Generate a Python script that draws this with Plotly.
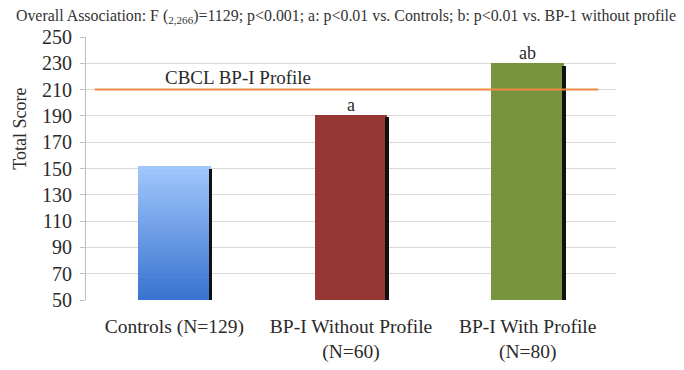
import plotly.graph_objects as go

categories = ["Controls (N=129)", "BP-I Without Profile<br>(N=60)", "BP-I With Profile<br>(N=80)"]
values = [152, 191, 230]
sig_labels = ["", "a", "ab"]
profile_value = 210
profile_label = "CBCL BP-I Profile"
y_ticks = list(range(50, 251, 20))
y_title = "Total Score"

BASE = 50
BAR_W = 0.41
SH_W = 0.022
SERIF = "Liberation Serif"
xi = list(range(len(categories)))

def lerp(c1, c2, t):
    return "rgb(%d,%d,%d)" % tuple(round(a + (b - a) * t) for a, b in zip(c1, c2))

fig = go.Figure()

# Controls bar with vertical gradient (stacked segments)
N = 30
top_c = (160, 198, 252)
bot_c = (58, 116, 208)
h = values[0] - BASE
for k in range(N):
    t = k / (N - 1)
    fig.add_trace(go.Bar(
        x=[xi[0]], y=[h / N], base=[BASE + h * k / N],
        width=BAR_W, marker=dict(color=lerp(bot_c, top_c, t), line=dict(width=0)),
        showlegend=False, hoverinfo="skip"))

solid_colors = [None, "#953735", "#77933c"]
for i in (1, 2):
    fig.add_trace(go.Bar(
        x=[xi[i]], y=[values[i] - BASE], base=[BASE], width=BAR_W,
        marker=dict(color=solid_colors[i], line=dict(width=0)),
        showlegend=False, hoverinfo="skip"))

# right-side dark shadows
fig.add_trace(go.Bar(
    x=xi, y=[v - BASE - 2 for v in values], base=[BASE] * 3,
    width=SH_W, offset=BAR_W / 2 - SH_W / 2,
    marker=dict(color="#111111", line=dict(width=0)),
    showlegend=False, hoverinfo="skip"))

# profile line
fig.add_trace(go.Scatter(
    x=[-0.45, 2.4], y=[profile_value, profile_value], mode="lines",
    line=dict(color="#ee8a45", width=2), showlegend=False, hoverinfo="skip"))

fig.add_annotation(x=0.36, y=profile_value, text=profile_label, showarrow=False,
                   yanchor="bottom", yshift=0,
                   font=dict(family=SERIF, size=19, color="#2a2a2a"))

for i, lab in enumerate(sig_labels):
    if lab:
        fig.add_annotation(x=xi[i], y=values[i], text=lab, showarrow=False,
                           yanchor="bottom", yshift=-2,
                           font=dict(family=SERIF, size=18, color="#2a2a2a"))

# y-axis title (placed as in the reference, above the vertical centre)
fig.add_annotation(xref="paper", yref="paper", x=-0.125, y=0.65, text=y_title,
                   textangle=-90, showarrow=False, xanchor="center", yanchor="middle",
                   font=dict(family=SERIF, size=18, color="#2a2a2a"))

fig.update_layout(
    width=676, height=362,
    barmode="overlay",
    bargap=0,
    plot_bgcolor="white", paper_bgcolor="white",
    margin=dict(l=78, r=68, t=29, b=70),
    font=dict(family=SERIF, size=17, color="#2a2a2a"),
    title=dict(
        text="Overall Association: F (<sub>2,266</sub>)=1129; p<0.001; a: p<0.01 vs. Controls; b: p<0.01 vs. BP-1 without profile",
        x=0.5, xanchor="center", y=0.995, yanchor="top",
        font=dict(family=SERIF, size=15.9, color="#333")),
    xaxis=dict(
        tickmode="array", tickvals=xi, ticktext=categories,
        range=[-0.5, 2.5], showgrid=False, zeroline=False, automargin=False,
        showline=False, ticks="", ticklabelstandoff=12,
        tickfont=dict(family=SERIF, size=19.5, color="#2a2a2a")),
    yaxis=dict(
        range=[BASE, 250], tickmode="array", tickvals=y_ticks, automargin=False,
        showgrid=True, gridcolor="#d9d9d9", gridwidth=1,
        showline=True, linecolor="#bfbfbf", linewidth=1,
        ticks="outside", ticklen=5, tickcolor="#bfbfbf", ticklabelstandoff=4,
        zeroline=False, tickfont=dict(family=SERIF, size=20, color="#2a2a2a")),
)

fig.write_html("out.html")
